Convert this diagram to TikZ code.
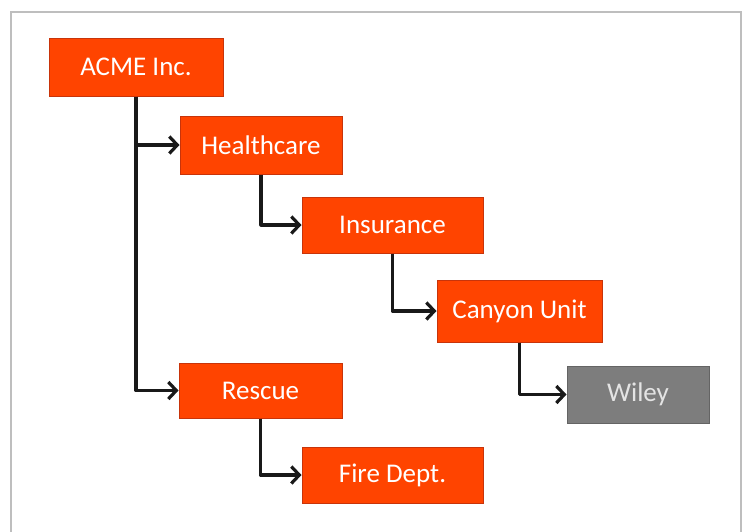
\documentclass[tikz,border=0pt]{standalone}
\usepackage{fontspec}
\setmainfont{Carlito}
\usetikzlibrary{arrows.meta}
\definecolor{unitfill}{RGB}{255,68,0}
\definecolor{unitedge}{RGB}{200,52,10}
\definecolor{leaffill}{RGB}{125,125,125}
\definecolor{leafedge}{RGB}{100,100,100}
\definecolor{framegray}{RGB}{190,190,190}
\definecolor{linkcol}{RGB}{25,25,25}
\tikzset{
  unit/.style={draw=unitedge, line width=1pt, fill=unitfill, text=white,
    inner sep=0pt, font=\fontsize{27}{32}\selectfont},
  leaf/.style={unit, draw=leafedge, fill=leaffill, text={rgb,255:red,228;green,228;blue,228}},
  link/.style={draw=linkcol, line width=3.2pt, line join=round,
    -{Straight Barb[length=8pt,width=17pt,line width=3.2pt]}}
}
\begin{document}
\begin{tikzpicture}[x=1pt,y=-1pt]
  \useasboundingbox (0,0) rectangle (746,531);
  \clip (0,0) rectangle (746,531);
  % outer frame
  \draw[framegray, line width=2pt] (11,560) -- (11,12) -- (741,12) -- (741,560);
  % organisation units
  \node[unit, minimum width=174pt, minimum height=58pt] (acme)   at (136,67)    {ACME Inc.};
  \node[unit, minimum width=162pt, minimum height=58pt] (health) at (261,145)   {Healthcare};
  \node[unit, minimum width=181pt, minimum height=56pt] (insur)  at (392.5,225) {Insurance};
  \node[unit, minimum width=165pt, minimum height=62pt] (canyon) at (519.5,311) {Canyon Unit};
  \node[leaf, minimum width=142pt, minimum height=57pt] (wiley)  at (638,394.5) {Wiley};
  \node[unit, minimum width=163pt, minimum height=55pt] (rescue) at (260.5,390.5) {Rescue};
  \node[unit, minimum width=181pt, minimum height=56pt] (fire)   at (392.5,475) {Fire Dept.};
  % reporting lines
  \draw[link] (acme.south)   |- (health.west);
  \draw[link] (acme.south)   |- (rescue.west);
  \draw[link] (health.south) |- (insur.west);
  \draw[link] (insur.south)  |- (canyon.west);
  \draw[link] (canyon.south) |- (wiley.west);
  \draw[link] (rescue.south) |- (fire.west);
\end{tikzpicture}
\end{document}
